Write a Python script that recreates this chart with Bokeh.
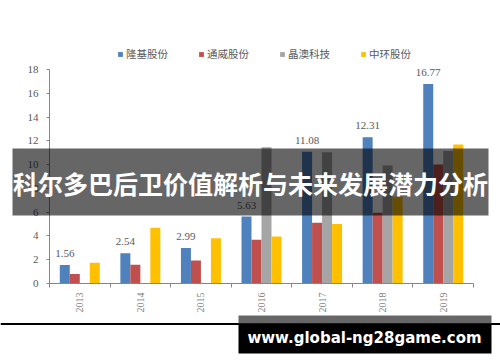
import math
from bokeh.plotting import figure
from bokeh.models import (ColumnDataSource, Range1d, FixedTicker, Legend, LegendItem,
                          LabelSet, Label, BoxAnnotation)
from bokeh.embed import file_html
from bokeh.resources import INLINE

years = ["2013", "2014", "2015", "2016", "2017", "2018", "2019"]
series_names = ["隆基股份", "通威股份", "晶澳科技", "中环股份"]
longi = [1.56, 2.54, 2.99, 5.63, 11.08, 12.31, 16.77]
tongwei = [0.80, 1.57, 1.93, 3.67, 5.12, 5.96, 10.00]
jingao = [float("nan"), float("nan"), float("nan"), 11.45, 11.03, 9.92, 11.15]
zhonghuan = [1.74, 4.68, 3.80, 3.95, 5.00, 7.30, 11.69]
y_ticks = [0, 2, 4, 6, 8, 10, 12, 14, 16, 18]
colors = ["#4f81bd", "#c0504d", "#a5a5a5", "#ffc000"]
title_text = "科尔多巴后卫价值解析与未来发展潜力分析"
watermark_text = "www.global-ng28game.com"

W, H = 500, 362
# plot area in canvas pixels
PL, PR, PT, PB = 49, 473, 69, 283
n = len(years)
ymax = 18
xs = (PR - PL) / n
ys = (PB - PT) / ymax

series = [longi, tongwei, jingao, zhonghuan]
bar_w = 0.165
offsets = [-1.5 * bar_w, -0.5 * bar_w, 0.5 * bar_w, 1.5 * bar_w]
centers = [i + 0.5 for i in range(n)]

p = figure(width=W, height=H, output_backend="svg", toolbar_location=None,
           x_range=Range1d(-PL / xs, n + (W - PR) / xs),
           y_range=Range1d(-(H - PB) / ys, ymax + PT / ys),
           min_border=0)
p.outline_line_color = None
p.xgrid.visible = False
p.ygrid.visible = False
p.background_fill_color = "white"
p.border_fill_color = "white"

renderers = []
for vals, off, col in zip(series, offsets, colors):
    src = ColumnDataSource(dict(x=[c + off for c in centers], top=vals))
    r = p.vbar(x="x", top="top", width=bar_w, source=src, fill_color=col, line_color=None)
    renderers.append(r)

# data labels on first series
lab_src = ColumnDataSource(dict(x=[c + offsets[0] for c in centers], y=longi,
                                text=[f"{v:.2f}" for v in longi]))
p.add_layout(LabelSet(x="x", y="y", text="text", source=lab_src, y_offset=8,
                      text_align="center", text_baseline="bottom",
                      text_font="Liberation Serif", text_font_size="11px",
                      text_color="#595959"))

# x axis
xa = p.xaxis[0]
xa.fixed_location = 0
xa.bounds = (0, n)
xa.ticker = FixedTicker(ticks=centers, minor_ticks=list(range(n + 1)))
xa.major_label_overrides = {c: y for c, y in zip(centers, years)}
xa.major_label_orientation = math.pi / 2
xa.major_tick_out = 0
xa.major_tick_in = 0
xa.minor_tick_out = 4
xa.minor_tick_in = 0
xa.axis_line_color = "#868686"
xa.minor_tick_line_color = "#868686"
xa.major_label_standoff = 5
xa.major_label_text_font = "Liberation Serif"
xa.major_label_text_font_size = "10px"
xa.major_label_text_color = "#7f7f7f"

ya = p.yaxis[0]
ya.fixed_location = 0
ya.bounds = (0, ymax)
ya.ticker = FixedTicker(ticks=y_ticks)
ya.major_tick_out = 3
ya.major_tick_in = 0
ya.minor_tick_out = 0
ya.minor_tick_in = 0
ya.axis_line_color = "#868686"
ya.major_tick_line_color = "#868686"
ya.major_label_standoff = 8
ya.major_label_text_font = "Liberation Serif"
ya.major_label_text_font_size = "11px"
ya.major_label_text_color = "#595959"

legend = Legend(items=[LegendItem(label=nm, renderers=[r]) for nm, r in zip(series_names, renderers)],
                orientation="horizontal", location=(117, H - 61),
                glyph_width=6, glyph_height=6, label_height=12, label_standoff=3,
                spacing=30, padding=0, margin=0,
                border_line_color=None, background_fill_alpha=0,
                label_text_font="Noto Sans CJK SC", label_text_font_size="10.5px",
                label_text_color="#595959")
p.add_layout(legend)


def sbox(left, right, top, bottom, color, alpha=1.0):
    # canvas pixel coordinates measured from the top-left
    return BoxAnnotation(left=left, right=right, top=H - top, bottom=H - bottom,
                         left_units="screen", right_units="screen",
                         bottom_units="screen", top_units="screen",
                         fill_color=color, fill_alpha=alpha, line_color=None)


# title banner overlay
p.add_layout(sbox(12, 488, 148, 215, "black", 0.6))
p.add_layout(Label(x=250, y=H - 182, x_units="screen", y_units="screen", text=title_text,
                   text_align="center", text_baseline="middle",
                   text_font="Noto Sans CJK SC", text_font_style="bold",
                   text_font_size="25px", text_color="white"))

# bottom rule and watermark
p.add_layout(sbox(0, W, 322.5, 324.5, "black"))
p.add_layout(sbox(238, 491, 315, 323, "#666666"))
p.add_layout(sbox(238, 491, 323, 353, "black"))
p.add_layout(Label(x=364, y=H - 337, x_units="screen", y_units="screen", text=watermark_text,
                   text_align="center", text_baseline="middle",
                   text_font="DejaVu Sans", text_font_style="bold",
                   text_font_size="15px", text_color="white"))

open("out.html", "w").write(file_html(p, INLINE))
